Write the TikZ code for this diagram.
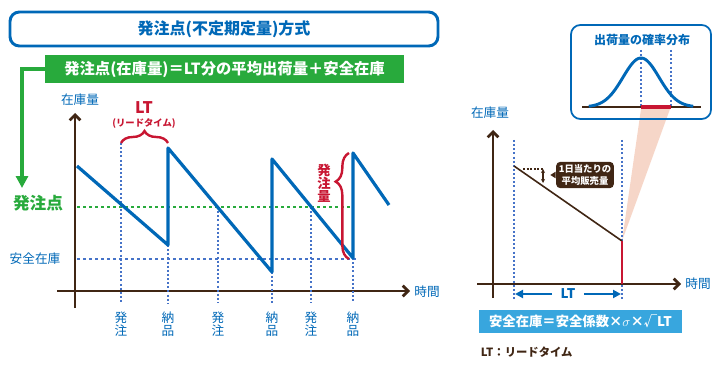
\documentclass[tikz,border=0pt]{standalone}
\usepackage{fontspec}
\setmainfont{Noto Sans CJK JP}
\usetikzlibrary{arrows.meta,decorations.pathreplacing}

\definecolor{zaikoblue}{RGB}{0,104,183}
\definecolor{hatchugreen}{RGB}{40,170,60}
\definecolor{ltred}{RGB}{200,22,50}
\definecolor{axisbrown}{RGB}{64,38,20}
\definecolor{dotblue}{RGB}{70,115,200}
\definecolor{formulablue}{RGB}{56,166,222}
\definecolor{wedgepink}{RGB}{246,214,200}

\tikzset{every picture/.style={line width=0.75pt}}
\tikzset{
  axisline/.style={draw=axisbrown, line width=2.2pt, -{Straight Barb[length=4pt,width=8pt,line width=2pt]}},
  sawline/.style={draw=zaikoblue, line width=2.4pt},
  tickline/.style={draw=dotblue, line width=1.2pt, dash pattern=on 1.5pt off 1.6pt},
  bracered/.style={draw=ltred, line width=1.8pt, decorate},
  evlabel/.style={text=zaikoblue, font=\fontsize{9.5}{9.5}\selectfont, align=center, inner sep=0pt},
  axislabel/.style={text=zaikoblue, font=\fontsize{9.5}{11}\selectfont, inner sep=0pt}
}

\begin{document}
\begin{tikzpicture}[x=0.75pt,y=0.75pt,yscale=-1,xscale=1]
	\useasboundingbox (0,0) rectangle (720,367);

	%Title box
	\draw[zaikoblue, line width=2.2pt, rounded corners=7pt] (10,12) rectangle (438,46);
	\node[text=zaikoblue, font=\bfseries\fontsize{12}{14}\selectfont] (title) at (224,29) {発注点(不定期定量)方式};

	%Green formula banner
	\node[fill=hatchugreen, text=white, minimum width=269pt, minimum height=21pt, inner sep=0pt,
	  font=\bfseries\fontsize{11.5}{14}\selectfont] (formula) at (224.5,69) {発注点(在庫量)＝LT分の平均出荷量＋安全在庫};
	\coordinate (gtip) at (22,188);
	\draw[hatchugreen, line width=2.4pt, -{Triangle[length=9pt,width=9pt]}] (formula.west) -| (gtip);
	\node[text=hatchugreen, font=\bfseries\fontsize{12.5}{14}\selectfont] (hten) at (38,203) {発注点};

	%Left chart: axes
	\draw[axisline] (75,308) -- (75,113);
	\draw[axisline] (57,291) -- (410,291);
	\node[axislabel] (ylab1) at (80,100) {在庫量};
	\node[axislabel] (xlab1) at (427,292) {時間};
	\node[axislabel] (anzen) at (35,259) {安全在庫};

	%Reorder point and safety stock levels
	\draw[hatchugreen, line width=1pt, dash pattern=on 2.5pt off 2pt] (77,207) -- (353,207);
	\draw[dotblue, line width=1pt, dash pattern=on 2.5pt off 2pt] (77,259) -- (358,259);

	%Order / delivery events
	\foreach \x/\top/\a/\b in {121/143/発/注, 168/245/納/品, 218/207/発/注, 272/272/納/品, 311/207/発/注, 353/258/納/品}{
		\draw[tickline] (\x,\top) -- (\x,303);
		\node[evlabel] (ev\x) at (\x,324) {\a\\\b};
	}

	%Inventory sawtooth
	\draw[sawline, line join=round] (77,166) -- (168,245) -- (168,148) -- (272,272) -- (272,159) -- (353,258) -- (353,153) -- (389,205);

	%LT brace
	\draw[bracered, decoration={brace, amplitude=9pt}] (121,143) -- (168,143);
	\node[text=ltred, font=\bfseries\fontsize{12}{14}\selectfont] (ltbig) at (144,108) {LT};
	\node[text=ltred, font=\bfseries\fontsize{7}{8}\selectfont] (ltsmall) at (144,123) {(リードタイム)};

	%Order quantity brace
	\draw[bracered, decoration={brace, amplitude=10pt, aspect=0.73}] (349,259) -- (349,153);
	\node[text=ltred, font=\bfseries\fontsize{10}{9.8}\selectfont, align=center, inner sep=0pt] (qty) at (324,183) {発\\注\\量};

	%Right chart: safety stock wedge
	\fill[wedgepink] (641,109) -- (670,109) -- (622,241) -- cycle;

	%Distribution box
	\draw[zaikoblue, line width=1.3pt, rounded corners=7pt] (571,25) rectangle (711,119);
	\node[text=zaikoblue, font=\bfseries\fontsize{9}{11}\selectfont] (disttitle) at (642,40) {出荷量の確率分布};
	\draw[tickline, line width=1pt] (641,50) -- (641,107);
	\draw[tickline, line width=1pt] (671,50) -- (671,107);
	\draw[axisbrown, line width=2pt] (582,107) -- (701,107);
	\draw[ltred, line width=3.5pt] (641,107) -- (671,107);
	\draw[zaikoblue, line width=2.2pt] plot[domain=-2.9:2.9, samples=60, smooth] ({641+18*\x},{107-49*exp(-(\x)*(\x)/2)});

	%Right chart: axes
	\draw[tickline] (514,140) -- (514,300);
	\draw[tickline] (622,140) -- (622,300);
	\draw[axisline] (493,298) -- (493,130);
	\draw[axisline] (477,284) -- (681,284);
	\node[axislabel] (ylab2) at (490,113) {在庫量};
	\node[axislabel] (xlab2) at (698,284) {時間};

	%Consumption line
	\coordinate (lstart) at (514,166);
	\coordinate (lend) at (622,241);
	\coordinate (lzero) at (622,284);
	\draw[axisbrown, line width=1.2pt] (lstart) -- (lend);
	\draw[ltred, line width=2.2pt] (lend) -- (lzero);

	%Daily average callout
	\coordinate (dtop) at (543,169);
	\coordinate (dbot) at (543,183);
	\draw[axisbrown, line width=1.8pt, dash pattern=on 1.5pt off 1.2pt] (523,169) -- (dtop);
	\draw[axisbrown, line width=0.8pt, {Stealth[length=3pt,width=3pt]}-{Stealth[length=3pt,width=3pt]}] (dtop) -- (dbot);
	\node[fill=axisbrown, text=white, rounded corners=3pt, align=center, inner sep=2pt,
	  font=\bfseries\fontsize{7}{9}\selectfont] (perday) at (585,175) {1日当たりの\\平均販売量};
	\fill[axisbrown] ([yshift=2.5pt]perday.west) -- ([xshift=-4pt]perday.west) -- ([yshift=-2.5pt]perday.west) -- cycle;

	%LT span
	\node[fill=white, text=zaikoblue, inner sep=1pt, font=\bfseries\fontsize{10}{12}\selectfont] (ltspan) at (568,294) {LT};
	\draw[zaikoblue, line width=1.6pt, -{Triangle[length=6pt,width=6pt]}] ([xshift=-5pt]ltspan.west) -- (515,294);
	\draw[zaikoblue, line width=1.6pt, -{Triangle[length=6pt,width=6pt]}] ([xshift=5pt]ltspan.east) -- (621,294);

	%Safety stock formula
	\node[fill=formulablue, text=white, minimum width=152pt, minimum height=17.5pt, inner sep=0pt,
	  font=\bfseries\fontsize{10}{12}\selectfont] (safety) at (580.5,321.5) {安全在庫＝安全係数×$\sigma$×√LT};
	\node[anchor=west, text=axisbrown, font=\bfseries\fontsize{8.5}{10}\selectfont] (ltnote) at (476,352) {LT：リードタイム};

\end{tikzpicture}
\end{document}
